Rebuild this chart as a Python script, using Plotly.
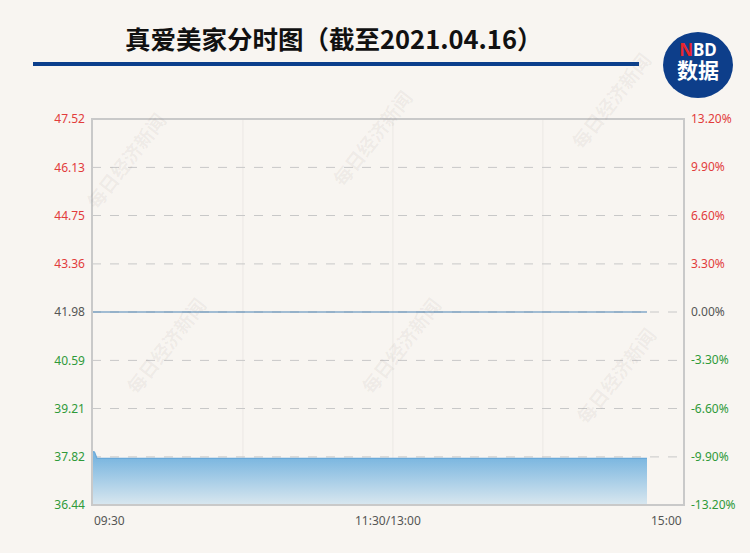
import plotly.graph_objects as go

# ---- data ----
prev_close = 41.98
minutes = list(range(0, 226))
prices = [37.98, 37.96] + [37.78] * 224
y_ticks = [47.52, 46.13, 44.75, 43.36, 41.98, 40.59, 39.21, 37.82, 36.44]
pct_ticks = [13.20, 9.90, 6.60, 3.30, 0.00, -3.30, -6.60, -9.90, -13.20]
x_labels = ["09:30", "11:30/13:00", "15:00"]
title = "真爱美家分时图（截至2021.04.16）"

W, H = 750, 553
L, R, T, B = 92, 684, 119, 505
BG = "#f8f5f1"
RED = "#e23c3c"
GREEN = "#2f9a3a"
GRAY = "#555555"


def px(x):
    return (x - L) / (R - L)


def py(y):
    return (B - y) / (B - T)


def col(v):
    if v > prev_close + 1e-9:
        return RED
    if v < prev_close - 1e-9:
        return GREEN
    return GRAY


def pcol(v):
    return RED if v > 0 else (GREEN if v < 0 else GRAY)


fig = go.Figure()

# baseline for gradient fill
fig.add_trace(go.Scatter(x=minutes, y=[y_ticks[-1]] * len(minutes), mode="lines",
                         line=dict(width=0), showlegend=False, hoverinfo="skip"))
fig.add_trace(go.Scatter(
    x=minutes, y=prices, mode="lines", line=dict(color="#6aa9d9", width=1.2),
    fill="tonexty",
    fillgradient=dict(type="vertical", start=y_ticks[-1], stop=37.78,
                      colorscale=[[0, "#d9e7ef"], [1, "#7cb7e0"]]),
    showlegend=False))
# previous close line
fig.add_trace(go.Scatter(x=[minutes[0], minutes[-1]], y=[prev_close, prev_close], mode="lines",
                         line=dict(color="#4a84b6", width=1.2), showlegend=False))
# invisible trace for right axis
fig.add_trace(go.Scatter(x=[0], y=[0], yaxis="y2", mode="markers", marker=dict(opacity=0),
                         showlegend=False, hoverinfo="skip"))

shapes = []
# vertical grid lines
for xv in [61.2, 122.0, 182.8]:
    shapes.append(dict(type="line", xref="x", yref="paper", x0=xv, x1=xv, y0=0, y1=1,
                       line=dict(color="#ebe8e4", width=1), layer="below"))
# horizontal dashed grid
for v in y_ticks[1:-1]:
    shapes.append(dict(type="line", xref="paper", yref="y", x0=0, x1=1, y0=v, y1=v,
                       line=dict(color="#c8c8c8", width=1, dash="dash"), layer="below"))
# frame
shapes.append(dict(type="rect", xref="paper", yref="paper", x0=0, x1=1, y0=0, y1=1,
                   line=dict(color="#c9c9c9", width=2)))
# title underline
shapes.append(dict(type="line", xref="paper", yref="paper", x0=px(33), x1=px(639),
                   y0=py(64), y1=py(64), line=dict(color="#0b3f8c", width=4)))
# logo circle
shapes.append(dict(type="circle", xref="paper", yref="paper", x0=px(663), x1=px(733),
                   y0=py(98), y1=py(32), fillcolor="#0d3e8a", line=dict(width=0)))

annotations = []
# watermarks
for (wx, wy) in [(125, 160), (372, 138), (610, 100), (165, 345), (400, 345), (615, 375)]:
    annotations.append(dict(text="<b>每日经济新闻</b>", xref="paper", yref="paper", x=px(wx), y=py(wy),
                            xanchor="center", yanchor="middle",
                            showarrow=False, textangle=-52,
                            font=dict(family="Noto Sans CJK SC", size=19,
                                      color="rgba(110,100,90,0.07)")))
annotations.append(dict(text="<b>" + title + "</b>", xref="paper", yref="paper",
                        x=px(333), y=py(38), xanchor="center", yanchor="middle", showarrow=False,
                        font=dict(family="Noto Sans CJK SC", size=25.5, color="#111111")))
annotations.append(dict(
    text="<b><span style='font-size:17px;font-family:Noto Sans'><span style='color:#e8262c'>N</span>BD</span>"
         "<br><span style='font-size:21px'>数据</span></b>",
    xref="paper", yref="paper", x=px(698), y=py(61), xanchor="center", yanchor="middle",
    showarrow=False, font=dict(family="Noto Sans CJK SC", size=17, color="white")))
# x labels
annotations.append(dict(text=x_labels[0], xref="paper", yref="paper", x=0, y=py(520),
                        xanchor="left", yanchor="middle", showarrow=False,
                        font=dict(family="Noto Sans", size=12, color=GRAY)))
annotations.append(dict(text=x_labels[1], xref="paper", yref="paper", x=0.5, y=py(520),
                        xanchor="center", yanchor="middle", showarrow=False,
                        font=dict(family="Noto Sans", size=12, color=GRAY)))
annotations.append(dict(text=x_labels[2], xref="paper", yref="paper", x=1, y=py(520),
                        xanchor="right", yanchor="middle", showarrow=False,
                        font=dict(family="Noto Sans", size=12, color=GRAY)))

fig.update_layout(
    width=W, height=H,
    margin=dict(l=L, r=W - R, t=T, b=H - B),
    paper_bgcolor=BG, plot_bgcolor=BG,
    shapes=shapes, annotations=annotations,
    xaxis=dict(range=[0, 240], showgrid=False, zeroline=False, showticklabels=False,
               fixedrange=True),
    yaxis=dict(range=[y_ticks[-1], y_ticks[0]], tickvals=y_ticks,
               ticktext=[f"<span style='color:{col(v)}'>{v:.2f}</span>" for v in y_ticks],
               showgrid=False, zeroline=False, ticks="", ticklabelstandoff=6,
               tickfont=dict(family="Noto Sans", size=12)),
    yaxis2=dict(range=[pct_ticks[-1], pct_ticks[0]], tickvals=pct_ticks,
                ticktext=[f"<span style='color:{pcol(v)}'>{v:.2f}%</span>" for v in pct_ticks],
                overlaying="y", side="right", showgrid=False, zeroline=False, ticks="",
                ticklabelstandoff=6, tickfont=dict(family="Noto Sans", size=12)),
)

fig.write_html("out.html", config={"displayModeBar": False},
               post_script="document.body.style.margin='0';document.body.style.background='%s';" % BG)
